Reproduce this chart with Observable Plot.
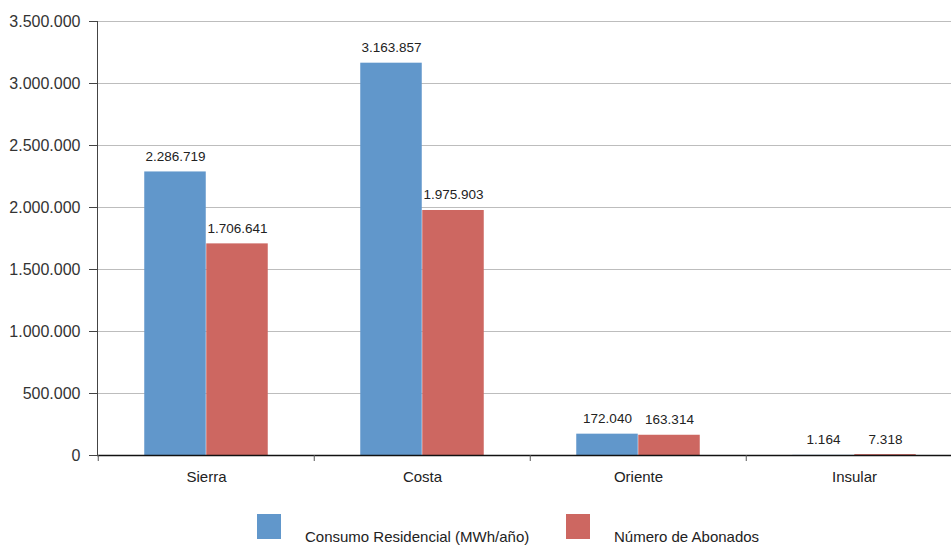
<!DOCTYPE html>
<html>
<head>
<meta charset="utf-8">
<script src="https://cdn.jsdelivr.net/npm/d3@7"></script>
<script src="https://cdn.jsdelivr.net/npm/@observablehq/plot@0.6"></script>
<style>
  html, body { margin: 0; padding: 0; background: #fff; overflow: hidden; }
  body { font-family: "Liberation Sans", Arial, sans-serif; color: #222; }
  #chart svg { display: block; overflow: visible; max-width: none !important; }
  #legend { position: relative; height: 50px; width: 951px; }
  #legend .swatch { position: absolute; top: 19px; width: 24px; height: 25px; }
  #legend .label { position: absolute; top: 34px; font-size: 15px; line-height: 16px; white-space: nowrap; color: #222; }
</style>
</head>
<body>
<div id="chart"></div>
<div id="legend"></div>
<script>
// Regions and the two measured series
const regions = ["Sierra", "Costa", "Oriente", "Insular"];
const series = ["Consumo Residencial (MWh/año)", "Número de Abonados"];
const consumo = [2286719, 3163857, 172040, 1164];
const abonados = [1706641, 1975903, 163314, 7318];
const colors = ["#6197CB", "#CD6761"];
const yTicks = [0, 500000, 1000000, 1500000, 2000000, 2500000, 3000000, 3500000];

// Spanish-style thousands separator
const locale = d3.formatLocale({decimal: ",", thousands: ".", grouping: [3], currency: ["", ""]});
const fmt = locale.format(",d");

const rows = regions.flatMap((region, i) => [
  {region, serie: series[0], value: consumo[i]},
  {region, serie: series[1], value: abonados[i]}
]);

// Layout
const W = 963, H = 495, ML = 97, MR = 0, MT = 21, MB = 40;
const step = (W - ML - MR) / regions.length;
const barW = 62;

const bars = (k) => ({
  x: "region",
  y: "value",
  fill: colors[k],
  insetLeft: k === 0 ? step / 2 - barW : step / 2,
  insetRight: k === 0 ? step / 2 : step / 2 - barW
});

const labels = (k) => ({
  x: "region",
  y: "value",
  text: d => fmt(d.value),
  dx: k === 0 ? -barW / 2 : barW / 2,
  dy: -11,
  lineAnchor: "bottom",
  fontSize: 13.5,
  fill: "#222"
});

const chart = Plot.plot({
  width: W,
  height: H,
  marginLeft: ML,
  marginRight: MR,
  marginTop: MT,
  marginBottom: MB,
  style: {fontFamily: "'Liberation Sans', Arial, sans-serif", color: "#222", background: "transparent"},
  x: {domain: regions, padding: 0, label: null},
  y: {domain: [0, 3500000], label: null},
  marks: [
    Plot.gridY(yTicks, {stroke: "#bdbdbd", strokeOpacity: 1}),
    Plot.barY(rows.filter(d => d.serie === series[0]), bars(0)),
    Plot.barY(rows.filter(d => d.serie === series[1]), bars(1)),
    Plot.text(rows.filter(d => d.serie === series[0]), labels(0)),
    Plot.text(rows.filter(d => d.serie === series[1]), labels(1)),
    Plot.ruleY([0], {stroke: "#111", strokeWidth: 1.5}),
    Plot.frame({anchor: "left", stroke: "#444"}),
    Plot.axisY({ticks: yTicks, tickFormat: fmt, tickSize: 8, tickPadding: 9, fontSize: 16, label: null, stroke: "#444", fill: "#333"}),
    Plot.axisX({tickSize: 6, dx: -step / 2, tickFormat: () => "", label: null, stroke: "#555"}),
    Plot.axisX({tickSize: 0, tickPadding: 16, fontSize: 15, label: null, fill: "#222"})
  ]
});
document.getElementById("chart").append(chart);

// Legend below the chart
const legend = document.getElementById("legend");
const items = [
  {swatch: 257, text: 305},
  {swatch: 566, text: 614}
];
series.forEach((s, k) => {
  const sw = document.createElement("div");
  sw.className = "swatch";
  sw.style.left = items[k].swatch + "px";
  sw.style.background = colors[k];
  const lb = document.createElement("div");
  lb.className = "label";
  lb.style.left = items[k].text + "px";
  lb.textContent = s;
  legend.append(sw, lb);
});
</script>
</body>
</html>
